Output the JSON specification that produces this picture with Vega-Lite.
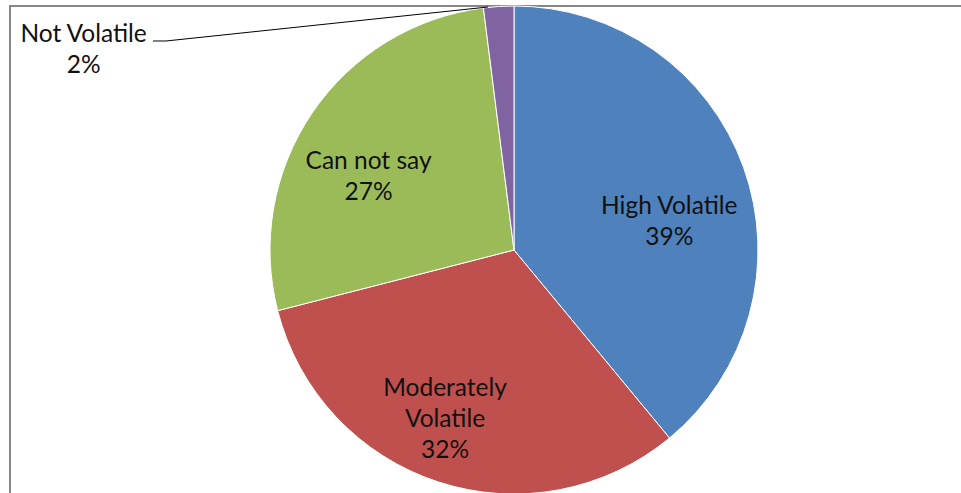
{
  "$schema": "https://vega.github.io/schema/vega-lite/v6.json",
  "width": 1008,
  "height": 488,
  "autosize": {"type": "none"},
  "padding": {"left": 10, "top": 6, "right": -57, "bottom": -1},
  "background": "white",
  "config": {
    "view": {"stroke": "#878787", "strokeWidth": 2},
    "font": "Lato",
    "text": {"font": "Lato", "fontSize": 24.5, "color": "#111111", "lineBreak": "\n", "lineHeight": 31, "align": "center", "baseline": "middle"}
  },
  "datasets": {
    "shares": [
      {"ord": 1, "cat": "High Volatile", "v": 39},
      {"ord": 2, "cat": "Moderately Volatile", "v": 32},
      {"ord": 3, "cat": "Can not say", "v": 27},
      {"ord": 4, "cat": "Not Volatile", "v": 2}
    ],
    "leader": [
      {"seq": 0, "u": -1.4795, "w": 0.8566},
      {"seq": 1, "u": -1.4262, "w": 0.8566},
      {"seq": 2, "u": -0.1066, "w": 0.9959}
    ]
  },
  "data": {"name": "shares"},
  "transform": [
    {"stack": "v", "groupby": [], "sort": [{"field": "ord", "order": "ascending"}], "as": ["t0", "t1"]},
    {"calculate": "(datum.t0 + datum.t1) / 2", "as": "mid"},
    {"calculate": "replace(datum.cat, 'Moderately ', 'Moderately\\n') + '\\n' + datum.v + '%'", "as": "label"}
  ],
  "layer": [
    {
      "mark": {"type": "arc", "radius": 244, "stroke": "white", "strokeWidth": 1},
      "encoding": {
        "theta": {"field": "t0", "type": "quantitative", "stack": null, "scale": {"domain": [0, 100]}},
        "theta2": {"field": "t1"},
        "color": {
          "field": "cat",
          "type": "nominal",
          "scale": {
            "domain": ["High Volatile", "Moderately Volatile", "Can not say", "Not Volatile"],
            "range": ["#4F81BD", "#C0504D", "#9BBB59", "#8064A2"]
          },
          "legend": null
        }
      }
    },
    {
      "transform": [{"filter": "datum.cat === 'High Volatile'"}],
      "mark": {"type": "text", "radius": 165, "dx": 0, "dy": 13},
      "encoding": {
        "theta": {"field": "mid", "type": "quantitative", "stack": null},
        "text": {"field": "label"}
      }
    },
    {
      "transform": [{"filter": "datum.cat === 'Moderately Volatile'"}],
      "mark": {"type": "text", "radius": 165, "dx": -18, "dy": -18},
      "encoding": {
        "theta": {"field": "mid", "type": "quantitative", "stack": null},
        "text": {"field": "label"}
      }
    },
    {
      "transform": [{"filter": "datum.cat === 'Can not say'"}],
      "mark": {"type": "text", "radius": 165, "dx": -9, "dy": 5},
      "encoding": {
        "theta": {"field": "mid", "type": "quantitative", "stack": null},
        "text": {"field": "label"}
      }
    },
    {
      "data": {"name": "leader"},
      "transform": [],
      "mark": {"type": "line", "color": "#000000", "strokeWidth": 1},
      "encoding": {
        "x": {"field": "u", "type": "quantitative", "scale": {"domain": [-2.0656, 2.0656], "nice": false, "zero": false}, "axis": null},
        "y": {"field": "w", "type": "quantitative", "scale": {"domain": [-1, 1], "nice": false, "zero": false}, "axis": null},
        "order": {"field": "seq"}
      }
    },
    {
      "transform": [{"filter": "datum.cat === 'Not Volatile'"}],
      "mark": {"type": "text"},
      "encoding": {
        "x": {"datum": -1.764, "type": "quantitative"},
        "y": {"datum": 0.8815, "type": "quantitative"},
        "text": {"field": "label"}
      }
    }
  ]
}
